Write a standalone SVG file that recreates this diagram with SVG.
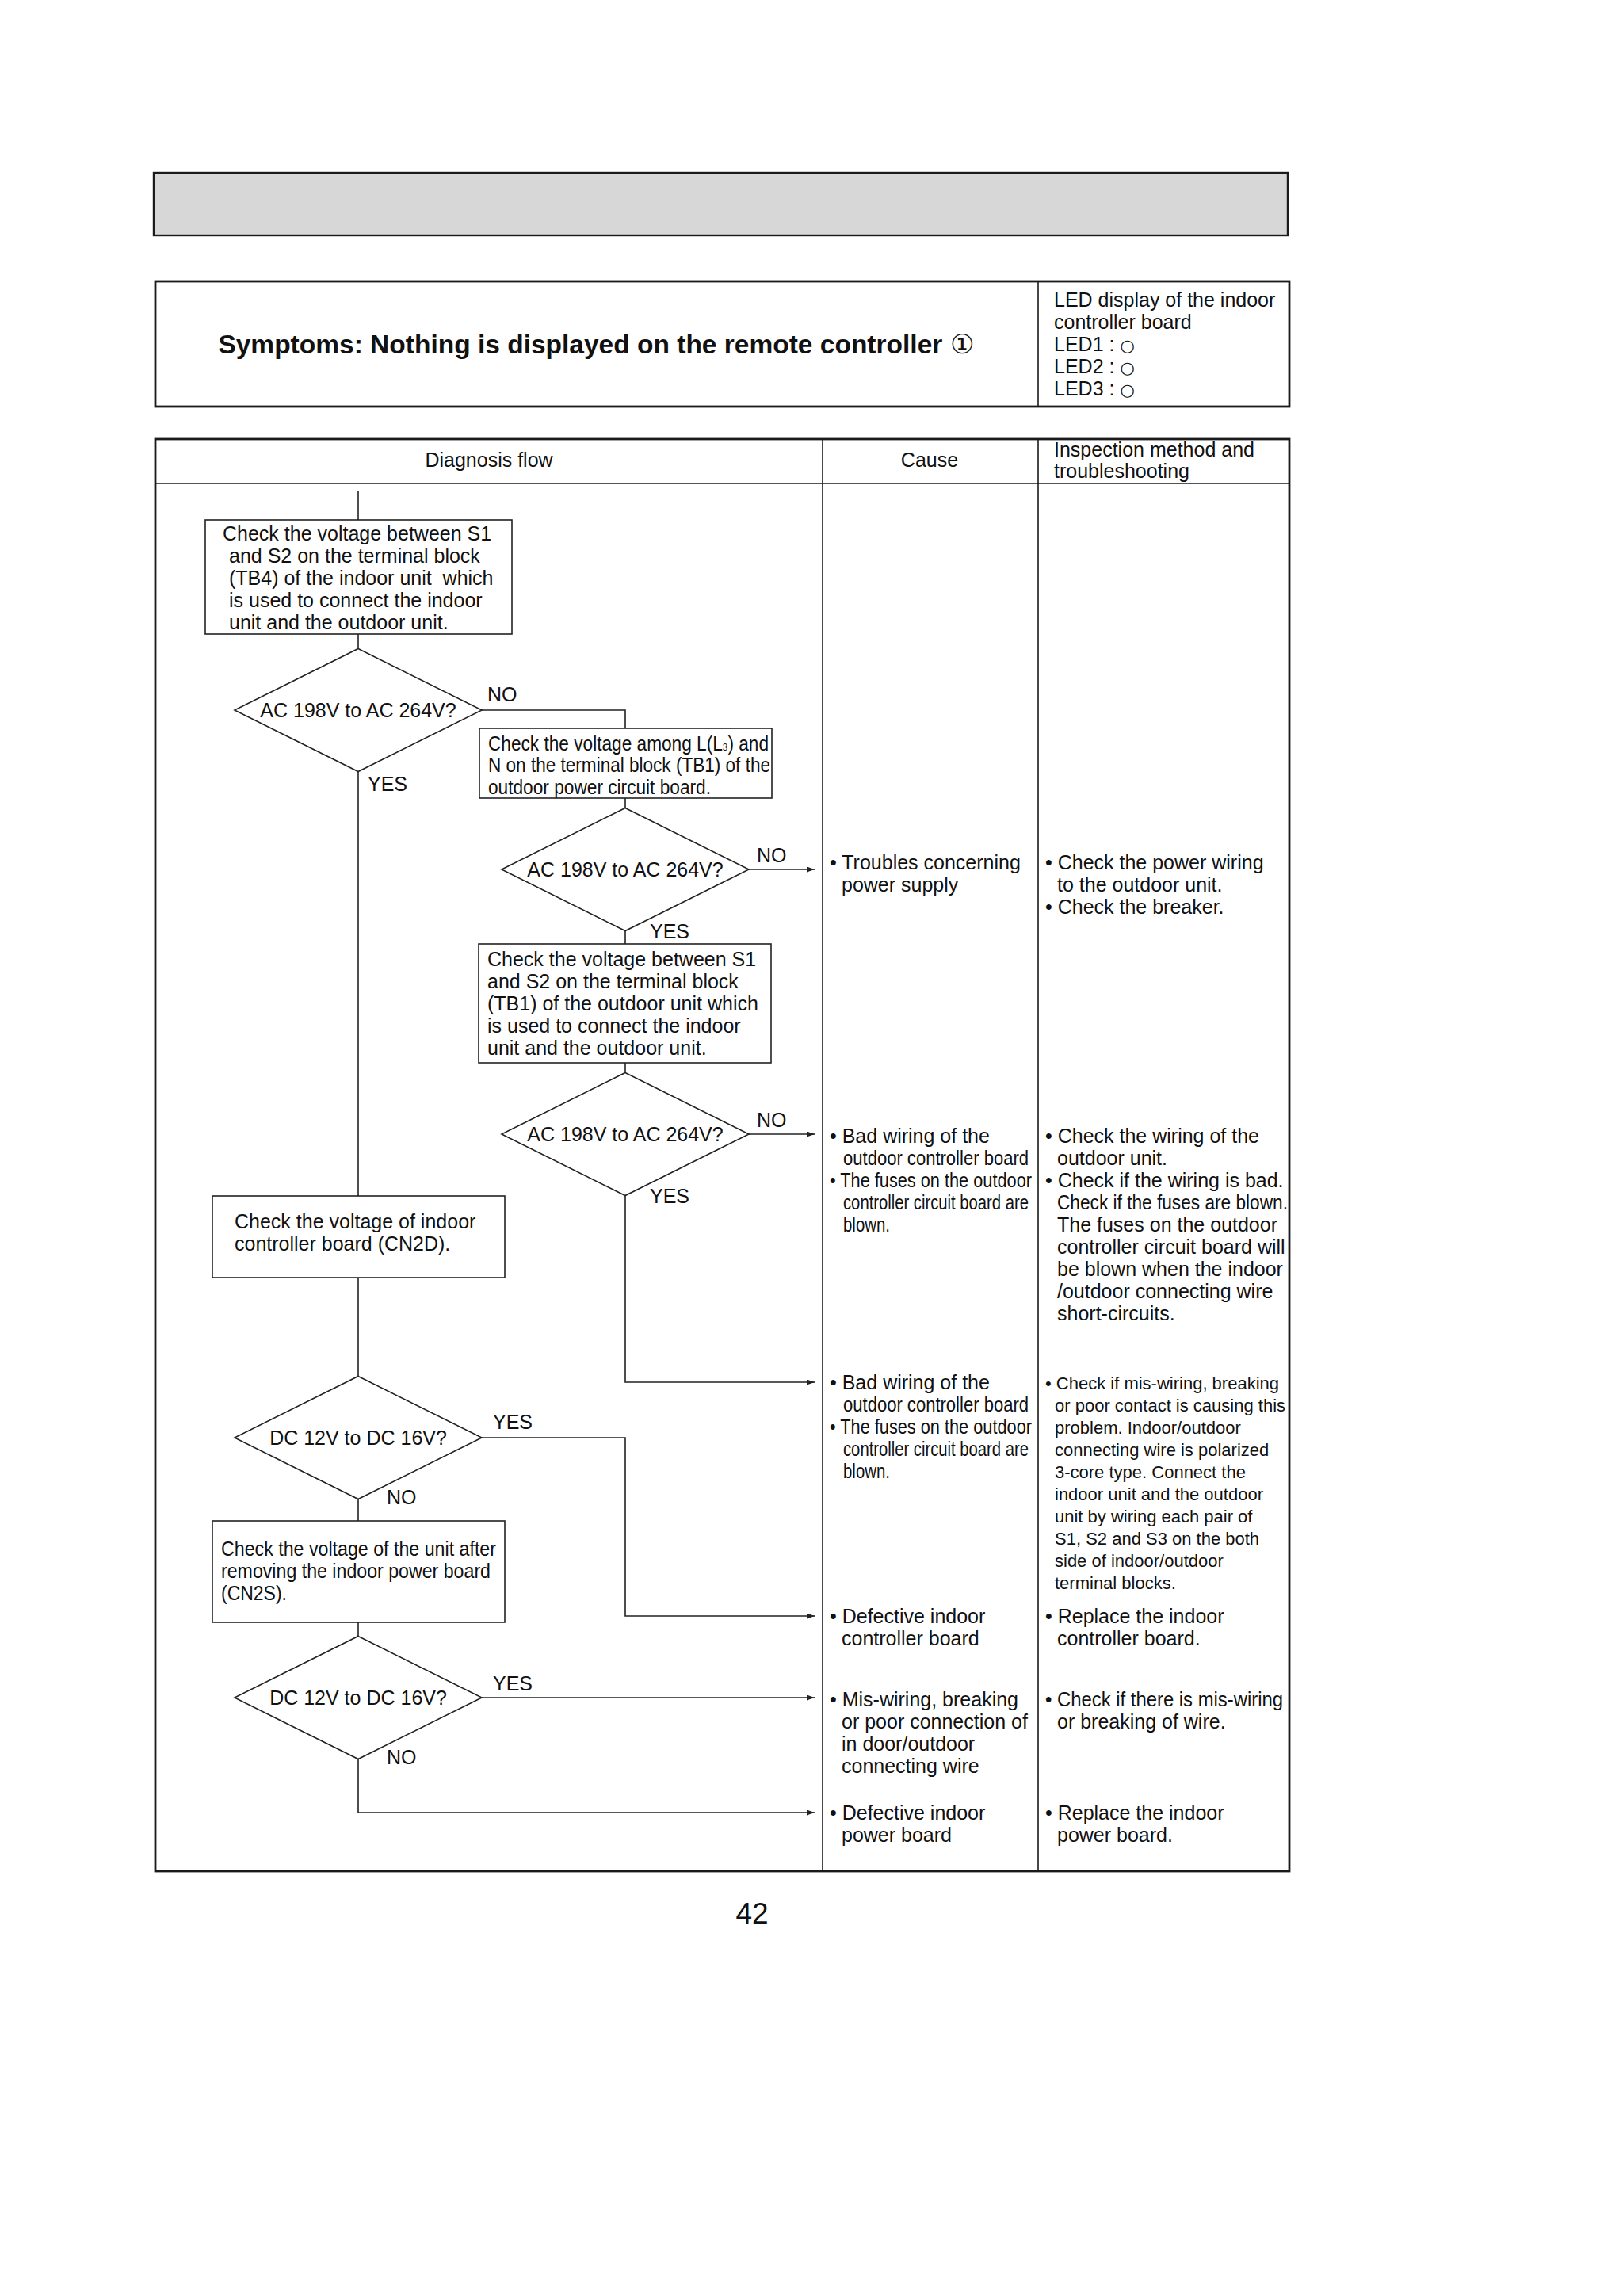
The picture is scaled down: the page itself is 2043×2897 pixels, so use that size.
<svg xmlns="http://www.w3.org/2000/svg" width="2043" height="2897" viewBox="0 0 2043 2897">
<style>
text{font-family:"Liberation Sans",Arial,sans-serif;font-size:25px;fill:#111}
.b{font-weight:bold;font-size:33.5px}
.s{font-size:22px}
.pg{font-size:37px}
.led{font-family:"DejaVu Sans",sans-serif;font-size:21px}
.frame{fill:none;stroke:#1a1a1a;stroke-width:2.8}
.rule{fill:none;stroke:#1a1a1a;stroke-width:1.6}
.box{fill:#fff;stroke:#222;stroke-width:1.6}
.conn{fill:none;stroke:#222;stroke-width:1.6}
.arr{marker-end:url(#ah)}
.mid{text-anchor:middle}
</style>
<defs>
<marker id="ah" markerUnits="userSpaceOnUse" markerWidth="11" markerHeight="8" refX="10" refY="3.5" orient="auto">
<path d="M0,0 L10,3.5 L0,7 z" fill="#222"/>
</marker>
</defs>
<rect width="2043" height="2897" fill="#fff"/>

<g id="header-bar">
<rect x="194" y="218" width="1431" height="79" fill="#d7d7d7" stroke="#1a1a1a" stroke-width="2.4"/>
</g>

<g id="symptom">
<rect class="frame" x="196" y="355" width="1431" height="158"/>
<line class="rule" x1="1310" y1="355" x2="1310" y2="513"/>
<text class="b mid" x="752" y="446">Symptoms: Nothing is displayed on the remote controller <tspan font-weight="normal">①</tspan></text>
<text x="1330" y="387">LED display of the indoor</text>
<text x="1330" y="415">controller board</text>
<text x="1330" y="443">LED1 : <tspan class="led">○</tspan></text>
<text x="1330" y="471">LED2 : <tspan class="led">○</tspan></text>
<text x="1330" y="499">LED3 : <tspan class="led">○</tspan></text>
</g>

<g id="table">
<rect class="frame" x="196" y="554" width="1431" height="1807"/>
<line class="rule" x1="196" y1="610" x2="1627" y2="610"/>
<line class="rule" x1="1038" y1="554" x2="1038" y2="2361"/>
<line class="rule" x1="1310" y1="554" x2="1310" y2="2361"/>
<text class="mid" x="617" y="589">Diagnosis flow</text>
<text class="mid" x="1173" y="589">Cause</text>
<text x="1330" y="576">Inspection method and</text>
<text x="1330" y="603">troubleshooting</text>
</g>

<g id="connectors">
<path class="conn" d="M452,619 V656"/>
<path class="conn" d="M452,800 V818.5"/>
<path class="conn" d="M608,896 H789 V918"/>
<path class="conn" d="M789,1007 V1019.5"/>
<path class="conn arr" d="M945,1097 H1028"/>
<path class="conn" d="M789,1174.5 V1191"/>
<path class="conn" d="M789,1341 V1353.5"/>
<path class="conn arr" d="M945,1431 H1028"/>
<path class="conn arr" d="M789,1508.5 V1744 H1028"/>
<path class="conn" d="M452,973.5 V1509"/>
<path class="conn" d="M452,1612 V1736.5"/>
<path class="conn arr" d="M608,1814 H789 V2039 H1028"/>
<path class="conn" d="M452,1891.5 V1919"/>
<path class="conn" d="M452,2047 V2064.5"/>
<path class="conn arr" d="M608,2142 H1028"/>
<path class="conn arr" d="M452,2219.5 V2287 H1028"/>
<text x="615" y="885">NO</text>
<text x="464" y="998">YES</text>
<text x="955" y="1088">NO</text>
<text x="820" y="1184">YES</text>
<text x="955" y="1422">NO</text>
<text x="820" y="1518">YES</text>
<text x="622" y="1803">YES</text>
<text x="488" y="1898">NO</text>
<text x="622" y="2133">YES</text>
<text x="488" y="2226">NO</text>
</g>

<g id="n-box1">
<rect class="box" x="259" y="656" width="387" height="144"/>
<text x="281" y="682">Check the voltage between S1</text>
<text x="289" y="710">and S2 on the terminal block</text>
<text x="289" y="738">(TB4) of the indoor unit&#160; which</text>
<text x="289" y="766">is used to connect the indoor</text>
<text x="289" y="794">unit and the outdoor unit.</text>
</g>

<g id="n-dia1">
<polygon class="box" points="452,818.5 608,896 452,973.5 296,896"/>
<text class="mid" x="452" y="905">AC 198V to AC 264V?</text>
</g>

<g id="n-box2">
<rect class="box" x="605" y="919" width="369" height="88"/>
<text x="616" y="947" textLength="354" lengthAdjust="spacingAndGlyphs">Check the voltage among L(L<tspan font-size="13">3</tspan>) and</text>
<text x="616" y="974" textLength="356" lengthAdjust="spacingAndGlyphs">N on the terminal block (TB1) of the</text>
<text x="616" y="1002" textLength="281" lengthAdjust="spacingAndGlyphs">outdoor power circuit board.</text>
</g>

<g id="n-dia2">
<polygon class="box" points="789,1019.5 945,1097 789,1174.5 633,1097"/>
<text class="mid" x="789" y="1106">AC 198V to AC 264V?</text>
</g>

<g id="n-box3">
<rect class="box" x="604" y="1191" width="369" height="150"/>
<text x="615" y="1219">Check the voltage between S1</text>
<text x="615" y="1247">and S2 on the terminal block</text>
<text x="615" y="1275">(TB1) of the outdoor unit which</text>
<text x="615" y="1303">is used to connect the indoor</text>
<text x="615" y="1331">unit and the outdoor unit.</text>
</g>

<g id="n-dia3">
<polygon class="box" points="789,1353.5 945,1431 789,1508.5 633,1431"/>
<text class="mid" x="789" y="1440">AC 198V to AC 264V?</text>
</g>

<g id="n-box4">
<rect class="box" x="268" y="1509" width="369" height="103"/>
<text x="296" y="1550">Check the voltage of indoor</text>
<text x="296" y="1578">controller board (CN2D).</text>
</g>

<g id="n-dia4">
<polygon class="box" points="452,1736.5 608,1814 452,1891.5 296,1814"/>
<text class="mid" x="452" y="1823">DC 12V to DC 16V?</text>
</g>

<g id="n-box5">
<rect class="box" x="268" y="1919" width="369" height="128"/>
<text x="279" y="1963" textLength="347" lengthAdjust="spacingAndGlyphs">Check the voltage of the unit after</text>
<text x="279" y="1991" textLength="340" lengthAdjust="spacingAndGlyphs">removing the indoor power board</text>
<text x="279" y="2019" textLength="83" lengthAdjust="spacingAndGlyphs">(CN2S).</text>
</g>

<g id="n-dia5">
<polygon class="box" points="452,2064.5 608,2142 452,2219.5 296,2142"/>
<text class="mid" x="452" y="2151">DC 12V to DC 16V?</text>
</g>

<g id="cause-1">
<text x="1047" y="1097">• Troubles concerning</text>
<text x="1062" y="1125">power supply</text>
</g>
<g id="insp-1">
<text x="1319" y="1097">• Check the power wiring</text>
<text x="1334" y="1125">to the outdoor unit.</text>
<text x="1319" y="1153">• Check the breaker.</text>
</g>

<g id="cause-2">
<text x="1047" y="1442">• Bad wiring of the</text>
<text x="1064" y="1470" textLength="234" lengthAdjust="spacingAndGlyphs">outdoor controller board</text>
<text x="1047" y="1498" textLength="255" lengthAdjust="spacingAndGlyphs">• The fuses on the outdoor</text>
<text x="1064" y="1526" textLength="234" lengthAdjust="spacingAndGlyphs">controller circuit board are</text>
<text x="1064" y="1554" textLength="59" lengthAdjust="spacingAndGlyphs">blown.</text>
</g>
<g id="insp-2">
<text x="1319" y="1442">• Check the wiring of the</text>
<text x="1334" y="1470">outdoor unit.</text>
<text x="1319" y="1498">• Check if the wiring is bad.</text>
<text x="1334" y="1526" textLength="291" lengthAdjust="spacingAndGlyphs">Check if the fuses are blown.</text>
<text x="1334" y="1554">The fuses on the outdoor</text>
<text x="1334" y="1582">controller circuit board will</text>
<text x="1334" y="1610">be blown when the indoor</text>
<text x="1334" y="1638">/outdoor connecting wire</text>
<text x="1334" y="1666">short-circuits.</text>
</g>

<g id="cause-3">
<text x="1047" y="1753">• Bad wiring of the</text>
<text x="1064" y="1781" textLength="234" lengthAdjust="spacingAndGlyphs">outdoor controller board</text>
<text x="1047" y="1809" textLength="255" lengthAdjust="spacingAndGlyphs">• The fuses on the outdoor</text>
<text x="1064" y="1837" textLength="234" lengthAdjust="spacingAndGlyphs">controller circuit board are</text>
<text x="1064" y="1865" textLength="59" lengthAdjust="spacingAndGlyphs">blown.</text>
</g>
<g id="insp-3">
<text class="s" x="1319" y="1753">• Check if mis-wiring, breaking</text>
<text class="s" x="1331" y="1781">or poor contact is causing this</text>
<text class="s" x="1331" y="1809">problem. Indoor/outdoor</text>
<text class="s" x="1331" y="1837">connecting wire is polarized</text>
<text class="s" x="1331" y="1865">3-core type. Connect the</text>
<text class="s" x="1331" y="1893">indoor unit and the outdoor</text>
<text class="s" x="1331" y="1921">unit by wiring each pair of</text>
<text class="s" x="1331" y="1949">S1, S2 and S3 on the both</text>
<text class="s" x="1331" y="1977">side of indoor/outdoor</text>
<text class="s" x="1331" y="2005">terminal blocks.</text>
</g>

<g id="cause-4">
<text x="1047" y="2048">• Defective indoor</text>
<text x="1062" y="2076">controller board</text>
</g>
<g id="insp-4">
<text x="1319" y="2048">• Replace the indoor</text>
<text x="1334" y="2076">controller board.</text>
</g>

<g id="cause-5">
<text x="1047" y="2153">• Mis-wiring, breaking</text>
<text x="1062" y="2181">or poor connection of</text>
<text x="1062" y="2209">in door/outdoor</text>
<text x="1062" y="2237">connecting wire</text>
</g>
<g id="insp-5">
<text x="1319" y="2153" textLength="300" lengthAdjust="spacingAndGlyphs">• Check if there is mis-wiring</text>
<text x="1334" y="2181">or breaking of wire.</text>
</g>

<g id="cause-6">
<text x="1047" y="2296">• Defective indoor</text>
<text x="1062" y="2324">power board</text>
</g>
<g id="insp-6">
<text x="1319" y="2296">• Replace the indoor</text>
<text x="1334" y="2324">power board.</text>
</g>

<text class="mid pg" x="949" y="2427">42</text>
</svg>
